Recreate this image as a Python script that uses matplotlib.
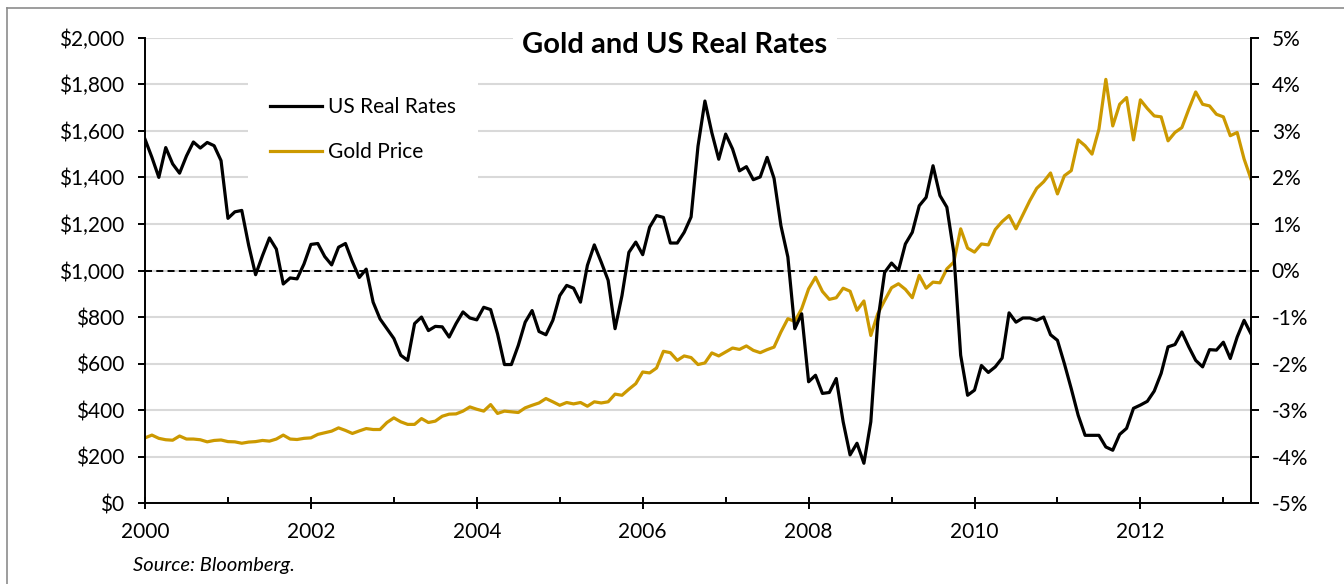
import matplotlib.pyplot as plt
import numpy as np
from matplotlib.lines import Line2D
from matplotlib.ticker import MultipleLocator

plt.rcParams['font.family'] = ['Lato', 'DejaVu Sans']

# Monthly data, Jan 2000 - May 2013
real_rates = [
    2.82, 2.43, 2.00, 2.64, 2.29, 2.09, 2.46, 2.76, 2.63, 2.75, 2.68, 2.36,
    1.12, 1.26, 1.29, 0.54, -0.09, 0.32, 0.70, 0.46, -0.29, -0.16, -0.18, 0.14,
    0.56, 0.58, 0.30, 0.12, 0.50, 0.58, 0.19, -0.15, 0.03, -0.68, -1.04, -1.25,
    -1.46, -1.82, -1.93, -1.14, -1.00, -1.29, -1.20, -1.21, -1.43, -1.14, -0.89, -1.02,
    -1.06, -0.79, -0.84, -1.36, -2.02, -2.02, -1.61, -1.11, -0.86, -1.31, -1.38, -1.07,
    -0.54, -0.32, -0.38, -0.68, 0.11, 0.55, 0.18, -0.21, -1.25, -0.54, 0.39, 0.61,
    0.34, 0.93, 1.18, 1.14, 0.59, 0.59, 0.82, 1.15, 2.67, 3.64, 2.96, 2.39,
    2.93, 2.61, 2.14, 2.23, 1.95, 2.01, 2.43, 1.98, 0.96, 0.29, -1.25, -0.93,
    -2.39, -2.25, -2.64, -2.62, -2.32, -3.25, -3.96, -3.71, -4.14, -3.25, -1.10, -0.04,
    0.16, 0.00, 0.57, 0.82, 1.39, 1.57, 2.25, 1.61, 1.36, 0.39, -1.82, -2.68,
    -2.57, -2.04, -2.19, -2.07, -1.88, -0.91, -1.11, -1.02, -1.02, -1.07, -1.00, -1.38,
    -1.50, -2.00, -2.54, -3.11, -3.54, -3.54, -3.54, -3.79, -3.86, -3.52, -3.39, -2.96,
    -2.89, -2.81, -2.59, -2.21, -1.64, -1.59, -1.32, -1.64, -1.93, -2.07, -1.70, -1.71,
    -1.54, -1.89, -1.43, -1.07, -1.36,
]

gold_price = [
    281, 293, 279, 273, 271, 289, 276, 276, 273, 264, 270, 272,
    265, 264, 258, 263, 265, 270, 267, 276, 293, 276, 274, 279,
    281, 296, 303, 310, 324, 313, 300, 311, 321, 317, 317, 347,
    367, 350, 339, 339, 364, 347, 353, 374, 383, 384, 396, 414,
    404, 396, 424, 386, 396, 393, 390, 410, 421, 431, 450, 436,
    421, 433, 427, 433, 417, 436, 431, 436, 469, 464, 490, 514,
    564, 560, 581, 653, 647, 614, 633, 626, 596, 603, 646, 633,
    650, 667, 661, 676, 657, 647, 660, 671, 736, 793, 781, 836,
    921, 971, 910, 876, 883, 924, 911, 829, 869, 721, 814, 871,
    926, 943, 919, 883, 979, 924, 950, 947, 1007, 1036, 1179, 1096,
    1079, 1114, 1110, 1176, 1210, 1236, 1179, 1239, 1300, 1353, 1381, 1419,
    1329, 1407, 1429, 1561, 1536, 1500, 1607, 1821, 1621, 1714, 1743, 1561,
    1733, 1696, 1664, 1660, 1557, 1593, 1614, 1693, 1767, 1714, 1707, 1671,
    1660, 1579, 1593, 1479, 1393,
]

start_year = 2000
months = np.arange(len(gold_price))
years = start_year + months / 12

left_ticks = np.arange(0, 2001, 200)
right_ticks = np.arange(-5, 6, 1)
year_ticks = np.arange(2000, 2013, 2)

GOLD = '#CC9900'
FS = 15

fig = plt.figure(figsize=(13.44, 5.84), dpi=100)
ax = fig.add_axes([145 / 1344, 1 - 503.3 / 584, (1251 - 145) / 1344, (503.3 - 37.7) / 584])
ax2 = ax.twinx()

gold_line, = ax.plot(years, gold_price, color=GOLD, lw=2.3, label='Gold Price')
real_line, = ax2.plot(years, real_rates, color='black', lw=2.3, label='US Real Rates')
ax2.axhline(0, color='black', lw=1.4, ls=(0, (3.6, 2.2)))

ax.set_xlim(2000, years[-1])
ax.set_ylim(0, 2000)
ax2.set_ylim(-5, 5)

ax.set_yticks(left_ticks)
ax.set_yticklabels([f'${v:,}' for v in left_ticks])
ax2.set_yticks(right_ticks)
ax2.set_yticklabels([f'{v}%' for v in right_ticks])
ax.set_xticks(year_ticks)
ax.set_xticklabels([str(y) for y in year_ticks])
ax.xaxis.set_minor_locator(MultipleLocator(1))

ax.yaxis.grid(True, color='#d9d9d9', lw=1.5)
ax.set_axisbelow(True)

for a in (ax, ax2):
    a.spines['top'].set_visible(False)
    for s in a.spines.values():
        s.set_linewidth(1.4)
ax.spines['right'].set_visible(False)
ax2.spines['left'].set_visible(False)
ax2.spines['bottom'].set_visible(False)

ax.tick_params(axis='y', direction='out', length=5, width=1.4, pad=10, labelsize=FS)
ax2.tick_params(axis='y', direction='out', length=6, width=1.4, pad=9, labelsize=FS)
ax.tick_params(axis='x', which='major', direction='inout', length=9, width=1.4, pad=9, labelsize=FS)
ax.tick_params(axis='x', which='minor', direction='in', length=4, width=1.4)

leg = ax2.legend([real_line, gold_line], ['US Real Rates', 'Gold Price'],
                 loc='upper left', bbox_to_anchor=(248 / 1344, 1 - 75 / 584),
                 bbox_transform=fig.transFigure, borderaxespad=0,
                 fontsize=FS, handlelength=2.5, handletextpad=0.3,
                 labelspacing=1.2, borderpad=1.05, frameon=True, fancybox=False)
leg.get_frame().set_facecolor('white')
leg.get_frame().set_edgecolor('none')
leg.get_frame().set_alpha(1)

fig.text(675 / 1344, 1 - 45 / 584, 'Gold and US Real Rates', ha='center', va='center',
         fontsize=21, fontweight='bold',
         bbox=dict(facecolor='white', edgecolor='none', pad=7))
fig.text(133 / 1344, 1 - 565 / 584, 'Source: Bloomberg.', ha='left', va='center',
         fontsize=14.5, style='italic')

# outer chart frame (top and left edges visible)
fig.add_artist(Line2D([7 / 1344, 1], [1 - 8 / 584] * 2, transform=fig.transFigure,
                      color='#8c8c8c', lw=1.2))
fig.add_artist(Line2D([7 / 1344] * 2, [0, 1 - 8 / 584], transform=fig.transFigure,
                      color='#8c8c8c', lw=1.2))

plt.savefig('out.png', dpi=100)
